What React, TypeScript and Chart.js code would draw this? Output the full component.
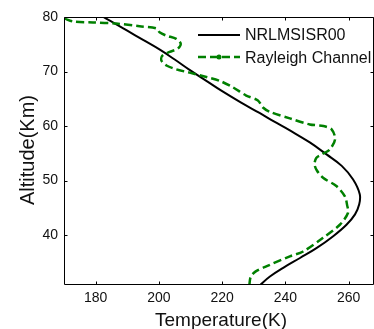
import React, { useEffect, useRef } from 'react';
import { Chart, registerables } from 'chart.js';

Chart.register(...registerables);

const seriesNames = ['NRLMSISR00', 'Rayleigh Channel'];
const xTitle = 'Temperature(K)';
const yTitle = 'Altitude(Km)';
const xTicks = [180, 200, 220, 240, 260];
const yTicks = [40, 50, 60, 70, 80];

// NRLMSISE model profile
const modelTemp = [181.8, 186, 190, 195, 200.3, 205, 209.7, 215, 220, 226, 231.8, 236.5, 241.4, 247.7, 253, 257.8, 261.4, 263.5, 263.3, 262, 259.3, 255.1, 249.8, 244.6, 239.3, 235.1, 232, 230.5];
const modelAlt = [80.2, 78.85, 77.5, 75.8, 74.0, 72.2, 70.3, 68.3, 66.4, 64.3, 62.4, 60.8, 59.2, 57, 54.8, 52.7, 50.2, 47.5, 45.6, 43.8, 41.9, 39.8, 37.6, 35.8, 34, 32.4, 30.85, 30];

// Rayleigh lidar channel profile
const rayleighTemp = [170.2, 172.8, 179.2, 186.5, 193.9, 199.2, 200.2, 202.3, 205.5, 206.9, 206, 203.4, 201.1, 200.8, 202.4, 205.5, 209.7, 215, 219.2, 223.4, 227.6, 231.3, 232.9, 235.1, 241.4, 247.7, 252, 254.6, 255.7, 254, 251.5, 249.8, 249.2, 250, 251.9, 256.1, 258.8, 259.5, 259.8, 257.2, 251.9, 245.6, 241.4, 234.5, 230.5, 229, 228.6];
const rayleighAlt = [79.7, 79.2, 79, 78.8, 78.3, 77.9, 77.2, 76.6, 76, 75.1, 74.2, 73.6, 72.9, 72, 71.1, 70.4, 69.8, 69, 68.3, 67.1, 65.6, 64.7, 63.4, 62.6, 61.4, 60.3, 60, 59.4, 57.6, 55.7, 54.8, 54.2, 53, 51.8, 50.5, 49, 47.1, 45.5, 44.1, 41.9, 39.5, 37, 36.1, 34.4, 33.3, 32.3, 30.85];

const X_MIN = 170;
const X_MAX = 268;
const Y_MIN = 30.85;
const Y_MAX = 80;

const GREEN = 'rgb(0,128,0)';
const FONT = '"Liberation Sans", Arial, Helvetica, sans-serif';

const framePlugin = {
  id: 'frame',
  afterDraw(chart: any) {
    const { ctx, chartArea: a, scales } = chart;
    const xs = scales.x;
    const ys = scales.y;
    ctx.save();
    ctx.strokeStyle = '#000';
    ctx.lineWidth = 1;
    ctx.setLineDash([]);
    const L = Math.round(a.left) + 0.5;
    const T = Math.round(a.top) + 0.5;
    const B = Math.round(a.bottom) - 0.5;
    const R = Math.round(a.right) - 0.5;
    ctx.beginPath();
    ctx.moveTo(R, T);
    ctx.lineTo(L, T);
    ctx.lineTo(L, B);
    ctx.lineTo(R, B);
    ctx.lineTo(R, T);
    ctx.stroke();
    // inward ticks
    ctx.beginPath();
    xTicks.forEach((v) => {
      const px = Math.round(xs.getPixelForValue(v)) + 0.5;
      ctx.moveTo(px, B);
      ctx.lineTo(px, B - 3);
      ctx.moveTo(px, T);
      ctx.lineTo(px, T + 3);
    });
    yTicks.forEach((v) => {
      const py = Math.round(ys.getPixelForValue(v)) + 0.5;
      ctx.moveTo(L, py);
      ctx.lineTo(L + 3, py);
      ctx.moveTo(R, py);
      ctx.lineTo(R - 3, py);
    });
    ctx.stroke();

    // legend
    const lx0 = 198;
    const lx1 = 240;
    const ly0 = 35;
    const ly1 = 57;
    ctx.strokeStyle = '#000';
    ctx.lineWidth = 2;
    ctx.beginPath();
    ctx.moveTo(lx0, ly0);
    ctx.lineTo(lx1, ly0);
    ctx.stroke();
    ctx.strokeStyle = GREEN;
    ctx.lineWidth = 2.5;
    ctx.setLineDash([8, 4]);
    ctx.beginPath();
    ctx.moveTo(lx0, ly1);
    ctx.lineTo(lx1, ly1);
    ctx.stroke();
    ctx.setLineDash([]);
    ctx.fillStyle = GREEN;
    ctx.beginPath();
    ctx.arc((lx0 + lx1) / 2, ly1, 2.5, 0, Math.PI * 2);
    ctx.fill();

    ctx.fillStyle = '#111';
    ctx.font = `16px ${FONT}`;
    ctx.textAlign = 'left';
    ctx.textBaseline = 'middle';
    ctx.fillText(seriesNames[0], 245, ly0 + 1);
    ctx.fillText(seriesNames[1], 245, ly1 + 2);

    // axis titles
    ctx.font = `19px ${FONT}`;
    ctx.textAlign = 'center';
    ctx.textBaseline = 'alphabetic';
    ctx.fillText(xTitle, 221, 326);
    ctx.font = `20px ${FONT}`;
    ctx.save();
    ctx.translate(34, 150);
    ctx.rotate(-Math.PI / 2);
    ctx.fillText(yTitle, 0, 0);
    ctx.restore();
    ctx.restore();
  },
};

export default function App() {
  const ref = useRef<HTMLCanvasElement | null>(null);

  useEffect(() => {
    if (!ref.current) return;
    const chart = new Chart(ref.current, {
      type: 'scatter',
      data: {
        datasets: [
          {
            label: seriesNames[0],
            data: modelTemp.map((t, i) => ({ x: t, y: modelAlt[i] })),
            showLine: true,
            borderColor: '#000',
            borderWidth: 2,
            pointRadius: 0,
            tension: 0.4,
            order: 2,
          },
          {
            label: seriesNames[1],
            data: rayleighTemp.map((t, i) => ({ x: t, y: rayleighAlt[i] })),
            showLine: true,
            borderColor: GREEN,
            borderWidth: 2.5,
            borderDash: [8, 4],
            pointRadius: 0,
            tension: 0.3,
            order: 1,
          },
        ],
      },
      options: {
        animation: false,
        responsive: false,
        events: [],
        layout: { padding: { top: 17, left: 0, right: 0, bottom: 0 } },
        plugins: {
          legend: { display: false },
          tooltip: { enabled: false },
          title: { display: false },
        },
        scales: {
          x: {
            type: 'linear',
            min: X_MIN,
            max: X_MAX,
            grid: { display: false, drawTicks: false },
            border: { display: false },
            afterBuildTicks: (s: any) => {
              s.ticks = xTicks.map((v) => ({ value: v }));
            },
            afterFit: (s: any) => {
              s.height = 44;
              s.paddingLeft = 0;
              s.paddingRight = 0;
            },
            ticks: {
              padding: 5,
              color: '#111',
              font: { size: 14, family: FONT },
              maxRotation: 0,
            },
          },
          y: {
            type: 'linear',
            min: Y_MIN,
            max: Y_MAX,
            grid: { display: false, drawTicks: false },
            border: { display: false },
            afterBuildTicks: (s: any) => {
              s.ticks = yTicks.map((v) => ({ value: v }));
            },
            afterFit: (s: any) => {
              s.width = 64;
              s.paddingTop = 0;
              s.paddingBottom = 0;
            },
            ticks: {
              padding: 6,
              color: '#111',
              font: { size: 14, family: FONT },
            },
          },
        },
      },
      plugins: [framePlugin],
    });
    return () => chart.destroy();
  }, []);

  return (
    <div style={{ position: 'absolute', left: 0, top: 0, width: 374, height: 329, background: '#fff' }}>
      <canvas ref={ref} width={374} height={329} style={{ width: 374, height: 329 }} />
    </div>
  );
}
